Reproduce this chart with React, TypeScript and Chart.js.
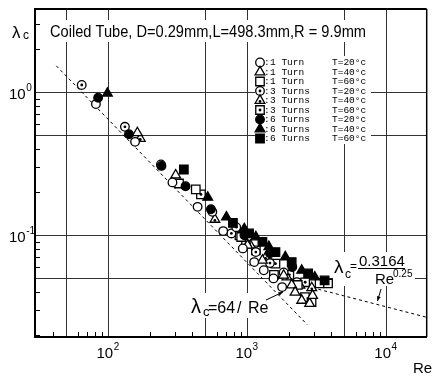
import React, { useEffect, useRef } from 'react';
import { Chart, registerables } from 'chart.js';
Chart.register(...registerables);

// ---------- series meta ----------
const seriesTurns = ['1 Turn', '1 Turn', '1 Turn', '3 Turns', '3 Turns', '3 Turns', '6 Turns', '6 Turns', '6 Turns'];
const seriesTemps = ['T=20°c', 'T=40°c', 'T=60°c', 'T=20°c', 'T=40°c', 'T=60°c', 'T=20°c', 'T=40°c', 'T=60°c'];
const seriesShapes = ['circle', 'triangle', 'rect', 'circle', 'triangle', 'rect', 'circle', 'triangle', 'rect'];
const seriesFilled = [false, false, false, false, false, false, true, true, true];
const seriesDotted = [false, false, false, true, true, true, false, false, false];

// ---------- data (Re, lambda_c) ----------
const re1T20 = [81, 155, 288, 437, 668, 925, 1117, 1309, 1538, 1774];
const lam1T20 = [0.824, 0.449, 0.234, 0.158, 0.107, 0.081, 0.065, 0.057, 0.05, 0.0435];
const re1T40 = [161, 304, 1000, 1280, 1820, 2080, 2200, 2455, 2800, 2940];
const lam1T40 = [0.519, 0.263, 0.085, 0.0668, 0.0525, 0.045, 0.04, 0.0351, 0.0334, 0.038];
const re1T60 = [321, 424, 900, 1550, 2300, 2590, 2890, 3305, 3800];
const lam1T60 = [0.23, 0.209, 0.0973, 0.053, 0.045, 0.037, 0.0341, 0.0461, 0.0461];
const re3T20 = [64, 131, 238, 558, 765, 829, 975, 1148, 1450, 1820, 2270];
const lam3T20 = [1.12, 0.572, 0.312, 0.146, 0.103, 0.114, 0.0875, 0.0764, 0.064, 0.055, 0.047];
const re3T40 = [169, 582, 1050, 1350, 1920, 2380, 2900];
const lam3T40 = [0.474, 0.129, 0.085, 0.07, 0.0511, 0.0448, 0.043];
const re3T60 = [462, 875, 1148, 1589, 2000, 2600];
const lam3T60 = [0.193, 0.1, 0.0785, 0.0634, 0.053, 0.047];
const re6T20 = [84, 140, 240, 358, 545, 950, 1450, 2100];
const lam6T20 = [0.912, 0.508, 0.305, 0.22, 0.152, 0.1, 0.075, 0.06];
const re6T40 = [98, 517, 705, 948, 1148, 1424, 1871, 2455, 3048];
const lam6T40 = [0.98, 0.184, 0.134, 0.111, 0.0973, 0.0832, 0.0706, 0.0569, 0.0511];
const re6T60 = [348, 785, 1026, 1280, 1589, 2080, 2730, 3589];
const lam6T60 = [0.288, 0.122, 0.103, 0.09, 0.0764, 0.065, 0.0542, 0.0484];

// reference curves (end points): lambda = 64/Re and lambda = 0.3164/Re^0.25
const laminarRe = [42, 2700];
const laminarLambda = [1.524, 0.0237];
const blasiusRe = [2200, 20000];
const blasiusLambda = [0.0463, 0.0266];

// ---------- axes ----------
const xMin = 29.5;
const xMax = 19500;
const yMin = 0.0195;
const yMax = 3.8;
const xGridMajor = [50, 100, 500, 1000, 5000, 10000];
const xMinorTicks = [40, 60, 70, 80, 90, 200, 300, 400, 600, 700, 800, 900, 2000, 3000, 4000, 6000, 7000, 8000, 9000];
const yGridMajor = [0.05, 0.1, 0.5, 1];
const yMinorTicks = [0.02, 0.03, 0.04, 0.06, 0.07, 0.08, 0.09, 0.2, 0.3, 0.4, 0.6, 0.7, 0.8, 0.9, 2, 3];
const xLabelValues = [100, 1000, 10000];
const xLabelExponents = ['2', '3', '4'];
const yLabelValues = [1, 0.1];
const yLabelExponents = ['0', '-1'];

const titleText = 'Coiled Tube, D=0.29mm,L=498.3mm,R = 9.9mm';

const SANS = '"Liberation Sans", Arial, sans-serif';
const MONO = '"Liberation Mono", monospace';

const radiusFor = (shape: string) => (shape === 'circle' ? 4.3 : shape === 'triangle' ? 5.6 : 6);

function drawMarker(ctx: CanvasRenderingContext2D, shape: string, filled: boolean, dotted: boolean, x: number, y: number) {
  const r = radiusFor(shape);
  ctx.save();
  ctx.lineWidth = 1.3;
  ctx.strokeStyle = '#000';
  ctx.fillStyle = filled ? '#000' : '#fff';
  ctx.beginPath();
  if (shape === 'circle') ctx.arc(x, y, r, 0, Math.PI * 2);
  else if (shape === 'triangle') {
    ctx.moveTo(x, y - r);
    ctx.lineTo(x + r * 0.866, y + r * 0.5);
    ctx.lineTo(x - r * 0.866, y + r * 0.5);
    ctx.closePath();
  } else {
    const h = r * Math.SQRT1_2;
    ctx.rect(x - h, y - h, 2 * h, 2 * h);
  }
  ctx.fill();
  ctx.stroke();
  if (dotted) {
    ctx.fillStyle = '#000';
    ctx.beginPath();
    ctx.arc(x, shape === 'triangle' ? y + 1 : y, 1.4, 0, Math.PI * 2);
    ctx.fill();
  }
  ctx.restore();
}

function arrow(ctx: CanvasRenderingContext2D, x1: number, y1: number, x2: number, y2: number) {
  ctx.beginPath();
  ctx.moveTo(x1, y1);
  ctx.lineTo(x2, y2);
  ctx.stroke();
  const a = Math.atan2(y2 - y1, x2 - x1);
  const L = 5;
  ctx.beginPath();
  ctx.moveTo(x2, y2);
  ctx.lineTo(x2 - L * Math.cos(a - 0.4), y2 - L * Math.sin(a - 0.4));
  ctx.lineTo(x2 - L * Math.cos(a + 0.4), y2 - L * Math.sin(a + 0.4));
  ctx.closePath();
  ctx.fill();
}

export default function App() {
  const ref = useRef<HTMLCanvasElement>(null);

  useEffect(() => {
    const canvas = ref.current;
    if (!canvas) return;
    const pointSets: number[][][] = [
      [re1T20, lam1T20], [re1T40, lam1T40], [re1T60, lam1T60],
      [re3T20, lam3T20], [re3T40, lam3T40], [re3T60, lam3T60],
      [re6T20, lam6T20], [re6T40, lam6T40], [re6T60, lam6T60],
    ];
    const pointDatasets = pointSets.map(([rs, ls], i) => ({
      label: `${seriesTurns[i]} ${seriesTemps[i]}`,
      data: rs.map((r, j) => ({ x: r, y: ls[j] })),
      pointStyle: seriesShapes[i],
      pointRadius: radiusFor(seriesShapes[i]),
      pointBorderWidth: 1.3,
      pointBorderColor: '#000',
      pointBackgroundColor: seriesFilled[i] ? '#000' : '#fff',
      showLine: false,
      order: seriesFilled[i] ? 0 : 1,
    }));
    const lineDs = (rs: number[], ls: number[], label: string) => ({
      label,
      data: rs.map((r, j) => ({ x: r, y: ls[j] })),
      showLine: true,
      borderColor: '#000',
      borderWidth: 1,
      borderDash: [3, 3],
      pointRadius: 0,
      fill: false,
      order: 10,
    });

    const annot = {
      id: 'annot',
      beforeDatasetsDraw(chart: any) {
        const ctx: CanvasRenderingContext2D = chart.ctx;
        ctx.save();
        // clear grid behind texts
        ctx.fillStyle = '#fff';
        ctx.fillRect(47, 20, 324, 22);
        ctx.fillRect(255, 56, 116, 88);
        ctx.fillRect(188, 293, 80, 25);
        ctx.fillRect(333, 252, 82, 34);

        ctx.fillStyle = '#000';
        ctx.textBaseline = 'alphabetic';
        ctx.font = `16px ${SANS}`;
        ctx.fillText(titleText, 50, 37, 316);

        // legend
        for (let i = 0; i < seriesTurns.length; i++) {
          const yy = 62.5 + 9.5 * i;
          drawMarker(ctx, seriesShapes[i], seriesFilled[i], seriesDotted[i], 260, yy);
          ctx.fillStyle = '#000';
          ctx.font = `9.5px ${MONO}`;
          ctx.textBaseline = 'middle';
          ctx.fillText(':', 264, yy);
          ctx.fillText(seriesTurns[i], 270, yy);
          ctx.fillText(seriesTemps[i], 332, yy);
        }
        ctx.textBaseline = 'alphabetic';

        // lambda = 64/Re
        ctx.font = `20px ${SANS}`;
        ctx.fillText('λ', 191, 313);
        ctx.font = `13px ${SANS}`;
        ctx.fillText('c', 203, 316);
        ctx.font = `16px ${SANS}`;
        ctx.fillText('=64', 208, 313);
        ctx.fillText('/', 237, 313);
        ctx.fillText('Re', 248, 313);
        ctx.lineWidth = 1;
        ctx.strokeStyle = '#000';
        arrow(ctx, 266, 300, 283, 292);

        // Blasius
        ctx.font = `19px ${SANS}`;
        ctx.fillText('λ', 334, 273);
        ctx.font = `12px ${SANS}`;
        ctx.fillText('c', 345, 278);
        ctx.fillText('=', 350, 270);
        ctx.font = `15px ${SANS}`;
        ctx.fillText('0.3164', 359, 266);
        ctx.beginPath();
        ctx.moveTo(358, 268.5);
        ctx.lineTo(405, 268.5);
        ctx.stroke();
        ctx.fillText('Re', 375, 284);
        ctx.font = `10px ${SANS}`;
        ctx.fillText('0.25', 393, 277);
        arrow(ctx, 381, 289, 377.5, 301);
        ctx.restore();
      },
      afterDatasetDraw(chart: any, args: any) {
        const i = args.index;
        if (i < seriesDotted.length && seriesDotted[i]) {
          const ctx: CanvasRenderingContext2D = chart.ctx;
          ctx.save();
          ctx.fillStyle = '#000';
          args.meta.data.forEach((el: any) => {
            ctx.beginPath();
            ctx.arc(el.x, seriesShapes[i] === 'triangle' ? el.y + 1 : el.y, 1.4, 0, Math.PI * 2);
            ctx.fill();
          });
          ctx.restore();
        }
      },
      afterDraw(chart: any) {
        const ctx: CanvasRenderingContext2D = chart.ctx;
        const a = chart.chartArea;
        const xs = chart.scales.x;
        const ys = chart.scales.y;
        ctx.save();
        ctx.strokeStyle = '#000';
        // top / right frame
        ctx.lineWidth = 2;
        ctx.beginPath();
        ctx.moveTo(a.left, a.top);
        ctx.lineTo(a.right, a.top);
        ctx.stroke();
        ctx.lineWidth = 1.5;
        ctx.beginPath();
        ctx.moveTo(a.right, a.top);
        ctx.lineTo(a.right, a.bottom);
        ctx.stroke();
        // minor ticks inward
        ctx.lineWidth = 1;
        ctx.beginPath();
        xMinorTicks.forEach((v) => {
          const px = Math.round(xs.getPixelForValue(v)) + 0.5;
          ctx.moveTo(px, a.bottom);
          ctx.lineTo(px, a.bottom - 5);
        });
        yMinorTicks.forEach((v) => {
          const py = Math.round(ys.getPixelForValue(v)) + 0.5;
          ctx.moveTo(a.left, py);
          ctx.lineTo(a.left + 5, py);
        });
        ctx.stroke();

        // tick labels
        ctx.fillStyle = '#000';
        ctx.textBaseline = 'alphabetic';
        xLabelValues.forEach((v, i) => {
          const px = xs.getPixelForValue(v);
          ctx.font = `15px ${SANS}`;
          const w1 = ctx.measureText('10').width;
          ctx.font = `10px ${SANS}`;
          const w2 = ctx.measureText(xLabelExponents[i]).width;
          const x0 = px - (w1 + w2) / 2 - 1;
          ctx.font = `15px ${SANS}`;
          ctx.fillText('10', x0, 358);
          ctx.font = `10px ${SANS}`;
          ctx.fillText(xLabelExponents[i], x0 + w1 + 0.5, 350);
        });
        yLabelValues.forEach((v, i) => {
          const py = ys.getPixelForValue(v);
          ctx.font = `15px ${SANS}`;
          ctx.fillText('10', 9, py + 7);
          const w1 = ctx.measureText('10').width;
          ctx.font = `10px ${SANS}`;
          ctx.fillText(yLabelExponents[i], 9 + w1 + 0.5, py - 1);
        });
        // axis titles
        ctx.font = `17px ${SANS}`;
        ctx.fillText('λ', 12, 38);
        ctx.font = `12px ${SANS}`;
        ctx.fillText('c', 23, 39);
        ctx.font = `15px ${SANS}`;
        ctx.fillText('Re', 413, 373);
        ctx.restore();
      },
    };

    const gridColor = (majors: number[]) => (c: any) =>
      c.tick && majors.includes(c.tick.value) ? '#333' : 'rgba(0,0,0,0)';

    const chart = new Chart(canvas, {
      type: 'scatter',
      data: {
        datasets: [
          ...pointDatasets,
          lineDs(laminarRe, laminarLambda, 'λc = 64/Re'),
          lineDs(blasiusRe, blasiusLambda, 'λc = 0.3164/Re^0.25'),
        ] as any,
      },
      options: {
        animation: false,
        responsive: false,
        devicePixelRatio: 1,
        layout: { padding: { top: 9, right: 1, left: 0, bottom: 0 } },
        plugins: { legend: { display: false }, tooltip: { enabled: false } },
        scales: {
          x: {
            type: 'logarithmic',
            min: xMin,
            max: xMax,
            afterBuildTicks: (s: any) => {
              s.ticks = [...xGridMajor, ...xMinorTicks].sort((p, q) => p - q).map((v) => ({ value: v }));
            },
            afterFit: (s: any) => {
              s.height = 42;
            },
            ticks: { display: false },
            grid: { color: gridColor(xGridMajor) as any, lineWidth: 1, drawTicks: false },
            border: { color: '#000', width: 2 },
          },
          y: {
            type: 'logarithmic',
            min: yMin,
            max: yMax,
            afterBuildTicks: (s: any) => {
              s.ticks = [...yGridMajor, ...yMinorTicks].sort((p, q) => p - q).map((v) => ({ value: v }));
            },
            afterFit: (s: any) => {
              s.width = 35;
            },
            ticks: { display: false },
            grid: { color: gridColor(yGridMajor) as any, lineWidth: 1, drawTicks: false },
            border: { color: '#000', width: 2 },
          },
        },
      } as any,
      plugins: [annot],
    });
    return () => chart.destroy();
  }, []);

  return (
    <div style={{ position: 'absolute', left: 0, top: 0, width: 434, height: 379, background: '#fff' }}>
      <canvas ref={ref} width={434} height={379} />
    </div>
  );
}
